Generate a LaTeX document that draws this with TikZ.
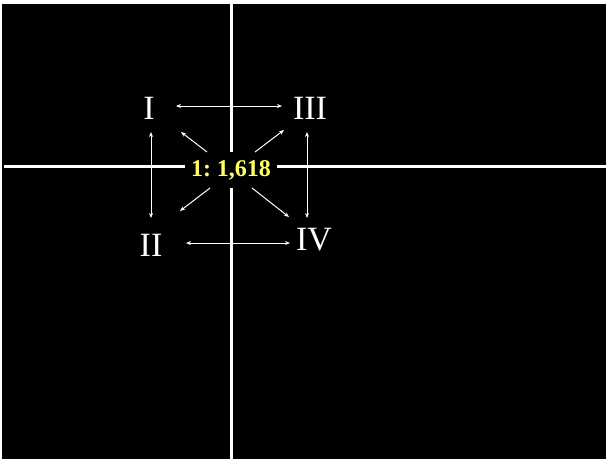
\documentclass[tikz,border=0pt]{standalone}
\usepackage{fontspec}
\setmainfont{Liberation Serif}
\usetikzlibrary{arrows.meta}
\frenchspacing
\definecolor{lblyellow}{RGB}{255,255,102}
\tikzset{
  axis/.style={white, line width=3pt},
  dbl/.style={white, line width=1pt, {Stealth[length=5pt,width=4pt]}-{Stealth[length=5pt,width=4pt]}},
  sgl/.style={white, line width=1pt, -{Stealth[length=5pt,width=4pt]}},
  roman/.style={text=white, font=\fontsize{34}{34}\selectfont, inner sep=0pt},
  ratio/.style={fill=black, text=lblyellow, font=\fontsize{24}{24}\selectfont\bfseries, minimum width=92pt, minimum height=36pt, inner sep=0pt}
}
\begin{document}
\begin{tikzpicture}[x=1pt,y=-1pt]
\useasboundingbox (0,0) rectangle (610,461);
\fill[white] (0,0) rectangle (610,461);
\fill[black] (2,4) rectangle (606,459);
% axes
\coordinate (vt) at (231,4);
\coordinate (vb) at (231,459);
\coordinate (hl) at (4,166);
\coordinate (hr) at (606,166);
\draw[axis] (vt) -- (vb);
\draw[axis] (hl) -- (hr);
% label
\node[ratio] (r) at (231,170) {1: 1,618};
% numerals
\node[roman] (n1) at (149,108) {I};
\node[roman] (n3) at (310,108) {III};
\node[roman] (n2) at (151,245) {II};
\node[roman] (n4) at (314,240) {IV};
% arrow ends
\coordinate (a13) at (176,106); \coordinate (b13) at (282,106);
\coordinate (a24) at (186,243); \coordinate (b24) at (290,243);
\coordinate (a12) at (151,132); \coordinate (b12) at (151,218);
\coordinate (a34) at (307,132); \coordinate (b34) at (307,218);
\coordinate (ul0) at (207,152); \coordinate (ul1) at (181,132);
\coordinate (ur0) at (255,152); \coordinate (ur1) at (284,130);
\coordinate (ll0) at (210,188); \coordinate (ll1) at (180,211);
\coordinate (lr0) at (252,188); \coordinate (lr1) at (289,217);
\draw[dbl] (a13) -- (b13);
\draw[dbl] (a24) -- (b24);
\draw[dbl] (a12) -- (b12);
\draw[dbl] (a34) -- (b34);
\draw[sgl] (ul0) -- (ul1);
\draw[sgl] (ur0) -- (ur1);
\draw[sgl] (ll0) -- (ll1);
\draw[sgl] (lr0) -- (lr1);
\end{tikzpicture}
\end{document}
